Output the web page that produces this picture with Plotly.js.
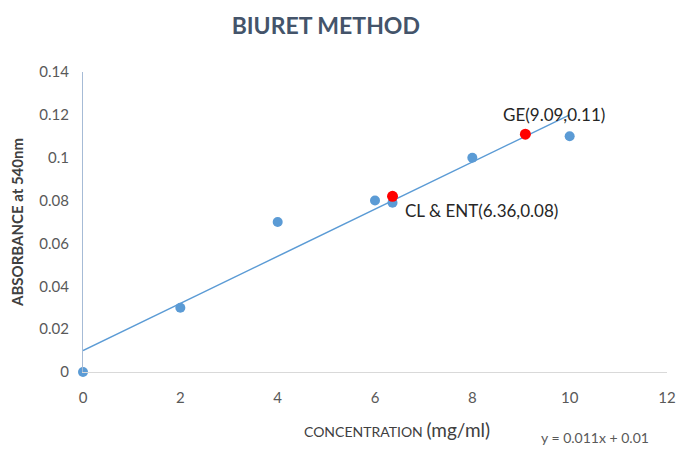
<!DOCTYPE html>
<html><head><meta charset="utf-8">
<script src="https://cdn.plot.ly/plotly-3.0.1.min.js"></script>
<style>body{margin:0;background:#fff}#chart{width:683px;height:450px}</style>
</head><body><div id="chart"></div>
<script>
const concentration = [0, 2, 4, 6, 6.36, 8, 10];
const absorbance = [0, 0.03, 0.07, 0.08, 0.079, 0.1, 0.11];
const sampleNames = ["CL & ENT(6.36,0.08)", "GE(9.09,0.11)"];
const sampleX = [6.36, 9.09];
const sampleY = [0.082, 0.111];
const trendX = [0, 10];
const slope = 0.011, intercept = 0.01;
const trendY = trendX.map(x => slope * x + intercept);
const xTicks = [0, 2, 4, 6, 8, 10, 12];
const yTicks = [0, 0.02, 0.04, 0.06, 0.08, 0.1, 0.12, 0.14];

const font = "Lato, 'Open Sans', sans-serif";
const data = [
  {x: trendX, y: trendY, mode: 'lines', line: {color: '#5B9BD5', width: 1.5}, hoverinfo: 'skip', cliponaxis: false},
  {x: concentration, y: absorbance, mode: 'markers', marker: {color: '#5B9BD5', size: 10}, cliponaxis: false},
  {x: sampleX, y: sampleY, mode: 'markers', marker: {color: '#FF0000', size: 11}, cliponaxis: false}
];
const layout = {
  width: 683, height: 450,
  margin: {l: 83, r: 16, t: 72, b: 78},
  showlegend: false,
  paper_bgcolor: '#fff', plot_bgcolor: '#fff',
  font: {family: font, color: '#595959'},
  title: {text: '<b>BIURET METHOD</b>', font: {size: 23, color: '#44546A', family: font}, x: 0.477, xanchor: 'center', y: 0.942, yanchor: 'middle'},
  xaxis: {range: [0, 12], tickvals: xTicks, ticktext: xTicks.map(String), showgrid: false, zeroline: false,
    showline: true, linecolor: '#D9D9D9', ticks: '', tickfont: {size: 15, color: '#595959'}, ticklabelstandoff: 12},
  yaxis: {range: [0, 0.14], tickvals: yTicks, ticktext: yTicks.map(String), showgrid: false, zeroline: false,
    showline: true, linecolor: '#A6BBD6', ticks: '', tickfont: {size: 15, color: '#595959'}, ticklabelstandoff: 10,
    title: {text: '<b>ABSORBANCE at 540nm</b>', font: {size: 15, color: '#404040'}, standoff: 12}},
  annotations: [
    {x: sampleX[1], y: sampleY[1], xref: 'x', yref: 'y', text: sampleNames[1], showarrow: false, xanchor: 'left', yanchor: 'bottom', xshift: -24, yshift: 7, font: {size: 17, color: '#262626'}},
    {x: sampleX[0], y: sampleY[0], xref: 'x', yref: 'y', text: sampleNames[0], showarrow: false, xanchor: 'left', yanchor: 'top', xshift: 10, yshift: -2, font: {size: 17, color: '#262626'}},
    {x: (397 - 83) / 584, y: -0.193, xref: 'paper', yref: 'paper', showarrow: false, xanchor: 'center', yanchor: 'middle',
      text: '<span style="font-size:14px">CONCENTRATION</span> <span style="font-size:19px">(mg/ml)</span>', font: {size: 14, color: '#404040'}},
    {x: (595 - 83) / 584, y: -0.217, xref: 'paper', yref: 'paper', text: 'y = 0.011x + 0.01', showarrow: false, xanchor: 'center', yanchor: 'middle', font: {size: 14, color: '#595959'}}
  ]
};
Plotly.newPlot('chart', data, layout, {displayModeBar: false});
</script></body></html>
